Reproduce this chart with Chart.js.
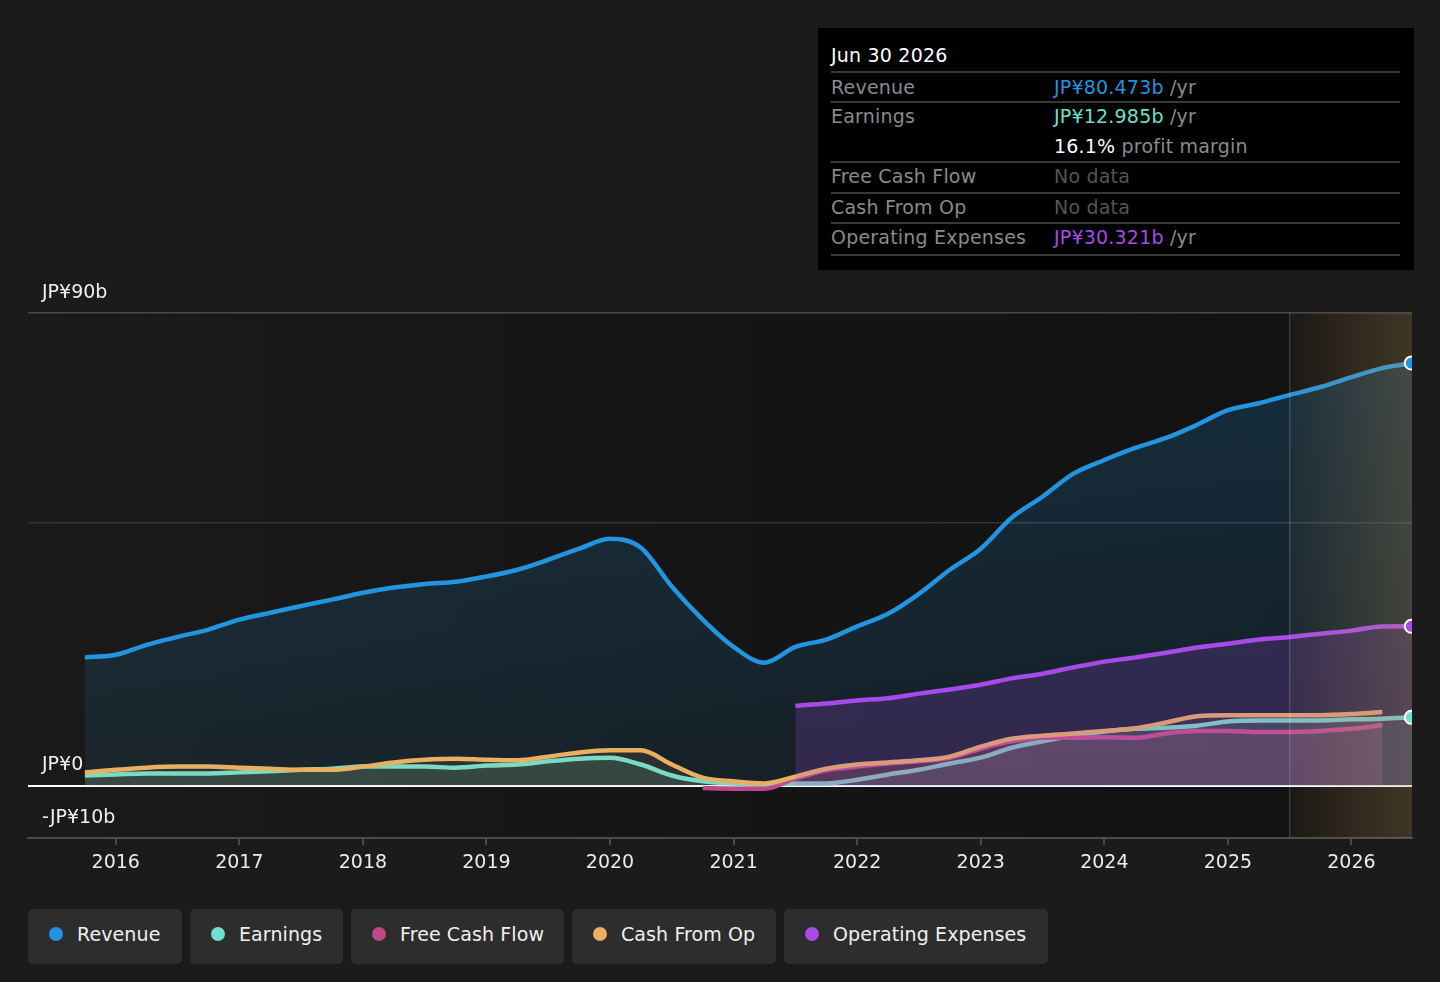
<!DOCTYPE html>
<html><head><meta charset="utf-8">
<script src="https://cdn.jsdelivr.net/npm/chart.js@4.4.1/dist/chart.umd.min.js"></script>
<style>
html,body{margin:0;padding:0;background:#1b1b1b;width:1440px;height:982px;overflow:hidden;font-family:"DejaVu Sans",sans-serif;}
#wrap{position:absolute;left:0;top:0;width:1440px;height:900px;}
#tip{position:absolute;left:818px;top:28px;width:596px;height:242px;background:#000;color:#8a8a8a;font-size:19px;letter-spacing:0.2px;}
#tip .t{position:absolute;left:13px;line-height:22px;transform:translateY(-50%);white-space:nowrap;}
#tip .v{position:absolute;left:236px;line-height:22px;transform:translateY(-50%);white-space:nowrap;}
#tip .ln{position:absolute;left:13px;right:14px;height:2px;background:#383838;}
#legend{position:absolute;left:28px;top:909px;display:flex;gap:8px;}
.lg{height:55px;display:flex;align-items:center;background:#2d2d2d;border-radius:5px;padding:0 0 6px 21px;color:#f0f0f0;font-size:19px;letter-spacing:0.1px;box-sizing:border-box;white-space:nowrap;}
.lg .d{width:14px;height:14px;border-radius:50%;margin-right:14px;flex:none;}
</style></head>
<body>
<div id="wrap"><canvas id="c" width="1440" height="900"></canvas></div>
<div id="tip">
  <div class="t" style="top:27px;color:#fff;">Jun 30 2026</div>
  <div class="ln" style="top:43px"></div>
  <div class="t" style="top:59px">Revenue</div><div class="v" style="top:59px"><span style="color:#2394df">JP¥80.473b</span> /yr</div>
  <div class="ln" style="top:73px"></div>
  <div class="t" style="top:88px">Earnings</div><div class="v" style="top:88px"><span style="color:#6ee0cd">JP¥12.985b</span> /yr</div>
  <div class="v" style="top:118px"><span style="color:#fff">16.1%</span> profit margin</div>
  <div class="ln" style="top:133px"></div>
  <div class="t" style="top:148px">Free Cash Flow</div><div class="v" style="top:148px;color:#555">No data</div>
  <div class="ln" style="top:164px"></div>
  <div class="t" style="top:179px">Cash From Op</div><div class="v" style="top:179px;color:#555">No data</div>
  <div class="ln" style="top:194px"></div>
  <div class="t" style="top:209px">Operating Expenses</div><div class="v" style="top:209px"><span style="color:#a64be8">JP¥30.321b</span> /yr</div>
  <div class="ln" style="top:226px"></div>
</div>
<div id="legend">
  <div class="lg" style="width:154px"><span class="d" style="background:#2394df"></span>Revenue</div>
  <div class="lg" style="width:153px"><span class="d" style="background:#6ee0cd"></span>Earnings</div>
  <div class="lg" style="width:213px"><span class="d" style="background:#c0478a"></span>Free Cash Flow</div>
  <div class="lg" style="width:204px"><span class="d" style="background:#e8b060"></span>Cash From Op</div>
  <div class="lg" style="width:264px"><span class="d" style="background:#a64be8"></span>Operating Expenses</div>
</div>
<script>
const periods = [2015.75,
  2016.0,2016.25,2016.5,2016.75, 2017.0,2017.25,2017.5,2017.75,
  2018.0,2018.25,2018.5,2018.75, 2019.0,2019.25,2019.5,2019.75,
  2020.0,2020.25,2020.5,2020.75, 2021.0,2021.25,2021.5,2021.75,
  2022.0,2022.25,2022.5,2022.75, 2023.0,2023.25,2023.5,2023.75,
  2024.0,2024.25,2024.5,2024.75, 2025.0,2025.25,2025.5,2025.75,
  2026.0,2026.25,2026.5];
const revenue = [24.4,
  24.9,26.8,28.3,29.7, 31.6,32.9,34.2,35.4,
  36.7,37.7,38.4,38.8, 39.8,41.1,43.0,45.1,
  47.0,45.3,37.9,31.6, 26.4,23.4,26.4,27.8,
  30.3,32.7,36.5,41.1, 45.1,51.0,55.0,59.4,
  62.0,64.3,66.2,68.7, 71.5,72.8,74.4,75.9,
  77.8,79.5,80.473];
const earnings = [1.9,
  2.1,2.3,2.3,2.3, 2.5,2.7,3.0,3.2,
  3.6,3.6,3.6,3.4, 3.8,4.0,4.6,5.1,
  5.3,4.0,1.9,0.8, 0.4,0.2,0.4,0.4,
  1.1,2.1,3.0,4.2, 5.3,7.2,8.4,9.5,
  10.3,10.8,11.0,11.4, 12.2,12.4,12.4,12.4,
  12.6,12.7,12.985];
const freeCashFlow = [null,
  null,null,null,null, null,null,null,null,
  null,null,null,null, null,null,null,null,
  null,null,null,-0.5, -0.6,-0.6,1.3,2.9,
  3.6,4.2,4.6,5.3, 7.0,8.4,9.1,9.1,
  9.2,9.1,9.9,10.4, 10.4,10.2,10.2,10.4,
  10.8,11.5,null];
const cashFromOp = [2.5,
  3.0,3.4,3.6,3.6, 3.4,3.2,3.0,3.0,
  3.6,4.4,4.9,5.1, 4.9,4.8,5.5,6.3,
  6.7,6.7,4.0,1.5, 0.8,0.4,1.7,3.2,
  4.0,4.4,4.8,5.5, 7.4,8.9,9.5,9.9,
  10.4,10.9,12.0,13.2, 13.4,13.4,13.4,13.4,
  13.6,14.0,null];
const operatingExpenses = [null,
  null,null,null,null, null,null,null,null,
  null,null,null,null, null,null,null,null,
  null,null,null,null, null,null,15.2,15.6,
  16.2,16.6,17.5,18.3, 19.2,20.4,21.3,22.5,
  23.6,24.4,25.3,26.3, 27.0,27.8,28.3,28.9,
  29.5,30.3,30.321];
const yTicks = [-10, 0, 50, 90];
const yLabels = {"-10": "-JP¥10b", "0": "JP¥0", "90": "JP¥90b"};
const xTicks = [2016,2017,2018,2019,2020,2021,2022,2023,2024,2025,2026];
const forecastStart = 2025.5;

const pts = arr => periods.map((x, i) => ({x: x, y: arr[i]}));

function revGrad(ctx) {
  const ca = ctx.chart.chartArea;
  if (!ca) return 'rgba(35,148,223,0.15)';
  const g = ctx.chart.ctx.createLinearGradient(0, ca.top, 0, ctx.chart.scales.y.getPixelForValue(0));
  g.addColorStop(0, 'rgba(35,148,223,0.22)');
  g.addColorStop(1, 'rgba(35,148,223,0.09)');
  return g;
}

const bgPlugin = {
  id: 'bg',
  beforeDraw(chart) {
    const {ctx, chartArea: ca} = chart;
    const g = ctx.createLinearGradient(ca.left, 0, ca.right, 0);
    g.addColorStop(0, '#1a1a1a');
    g.addColorStop(0.5, '#151515');
    g.addColorStop(1, '#111111');
    ctx.save();
    ctx.fillStyle = g;
    ctx.fillRect(ca.left, ca.top, ca.right - ca.left, ca.bottom - ca.top);
    ctx.restore();
  },
  afterDatasetsDraw(chart) {
    const {ctx, chartArea: ca, scales} = chart;
    const x0 = scales.x.getPixelForValue(forecastStart);
    ctx.save();
    const g = ctx.createLinearGradient(x0, 0, ca.right, 0);
    g.addColorStop(0, 'rgba(200,160,95,0.05)');
    g.addColorStop(1, 'rgba(200,160,95,0.26)');
    ctx.fillStyle = g;
    ctx.fillRect(x0, ca.top, ca.right - x0, ca.bottom - ca.top);
    ctx.strokeStyle = 'rgba(255,255,255,0.16)';
    ctx.lineWidth = 1.5;
    ctx.beginPath(); ctx.moveTo(x0, ca.top); ctx.lineTo(x0, ca.bottom); ctx.stroke();
    ctx.restore();
  },
  afterDraw(chart) {
    const {ctx, chartArea: ca, scales} = chart;
    ctx.save();
    ctx.font = '19px "DejaVu Sans"';
    ctx.fillStyle = '#f0f0f0';
    ctx.textBaseline = 'middle';
    ctx.textAlign = 'left';
    Object.keys(yLabels).forEach(k => {
      const y = scales.y.getPixelForValue(Number(k));
      ctx.fillText(yLabels[k], ca.left + 14, y - 20);
    });
    // end point markers, clipped to the plot area
    ctx.beginPath();
    ctx.rect(ca.left, ca.top - 10, ca.right - ca.left, ca.bottom - ca.top + 10);
    ctx.clip();
    [0, 1, 4].forEach(di => {
      const meta = chart.getDatasetMeta(di);
      const el = meta.data[meta.data.length - 1];
      if (!el) return;
      ctx.beginPath();
      ctx.arc(el.x - 2, el.y, 6.5, 0, Math.PI * 2);
      ctx.fillStyle = chart.data.datasets[di].borderColor;
      ctx.fill();
      ctx.lineWidth = 2;
      ctx.strokeStyle = '#ffffff';
      ctx.stroke();
    });
    ctx.restore();
  }
};

const common = {pointRadius: 0, pointHoverRadius: 0, borderWidth: 4.5, cubicInterpolationMode: 'monotone', spanGaps: false};

new Chart(document.getElementById('c'), {
  type: 'line',
  data: {
    datasets: [
      Object.assign({label: 'Revenue', data: pts(revenue), borderColor: '#2394df', backgroundColor: revGrad, fill: 'origin', order: 5}, common),
      Object.assign({label: 'Earnings', data: pts(earnings), borderColor: '#6ee0cd', backgroundColor: 'rgba(110,224,205,0.13)', fill: 'origin', order: 4}, common),
      Object.assign({label: 'Free Cash Flow', data: pts(freeCashFlow), borderColor: '#c0478a', backgroundColor: 'rgba(192,71,138,0.16)', fill: 'origin', order: 3}, common),
      Object.assign({label: 'Cash From Op', data: pts(cashFromOp), borderColor: '#e8b060', backgroundColor: 'rgba(232,176,96,0.10)', fill: 'origin', order: 2}, common),
      Object.assign({label: 'Operating Expenses', data: pts(operatingExpenses), borderColor: '#a64be8', backgroundColor: 'rgba(166,75,232,0.2)', fill: 'origin', order: 1}, common)
    ]
  },
  options: {
    responsive: false,
    animation: false,
    events: [],
    layout: {padding: {left: 28, right: 28, top: 313, bottom: 2}},
    plugins: {legend: {display: false}, tooltip: {enabled: false}},
    scales: {
      x: {
        type: 'linear', min: 2015.29, max: 2026.49,
        afterBuildTicks: s => { s.ticks = xTicks.map(v => ({value: v})); },
        afterFit: s => { s.height = 60; },
        grid: {drawOnChartArea: false, drawTicks: true, tickLength: 7, color: '#4a4a4a', lineWidth: 2},
        border: {display: true, color: '#4a4a4a', width: 2},
        ticks: {color: '#ececec', font: {family: 'DejaVu Sans', size: 19}, padding: 7, callback: v => String(v), maxRotation: 0}
      },
      y: {
        min: -10, max: 90,
        afterBuildTicks: s => { s.ticks = yTicks.map(v => ({value: v})); },
        afterFit: s => { s.width = 0; },
        ticks: {display: false},
        border: {display: false},
        grid: {
          drawTicks: false,
          color: c => c.tick.value === 0 ? '#ffffff' : (c.tick.value === 50 ? '#333333' : '#4a4a4a'),
          lineWidth: c => c.tick.value === 0 ? 2 : 1.5
        }
      }
    }
  },
  plugins: [bgPlugin]
});
</script>
</body></html>
